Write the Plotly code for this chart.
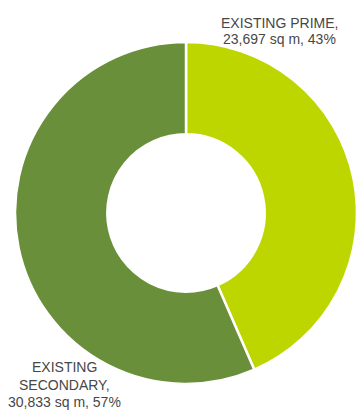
import plotly.graph_objects as go

# Stock of existing space by grade
categories = ["EXISTING PRIME", "EXISTING SECONDARY"]
areas_sqm = [23697, 30833]
colors = ["#BED600", "#6A8F3B"]

W, H = 363, 416

total = sum(areas_sqm)
shares = [round(100 * a / total) for a in areas_sqm]

# ring centred at (186, 213) px, outer radius 171 px
cx, cy, r = 186, 213, 171

fig = go.Figure(
    go.Pie(
        labels=categories,
        values=areas_sqm,
        hole=0.46,
        sort=False,
        direction="clockwise",
        rotation=0,
        textinfo="none",
        hoverinfo="label+value+percent",
        marker=dict(colors=colors, line=dict(color="white", width=2.5)),
        domain=dict(x=[(cx - r) / W, (cx + r) / W],
                    y=[1 - (cy + r) / H, 1 - (cy - r) / H]),
        showlegend=False,
    )
)

font = dict(family="Liberation Sans, Arial, sans-serif", size=14, color="#474747")


def label(lines, x_px, y_px, step=17):
    # one annotation per line keeps the tight line spacing of the callouts
    for i, line in enumerate(lines):
        fig.add_annotation(
            x=x_px / W, y=1 - (y_px + i * step) / H, xref="paper", yref="paper",
            text=line, showarrow=False, xanchor="center", yanchor="middle", font=font,
        )


label([f"{categories[0]},", f"{areas_sqm[0]:,} sq m, {shares[0]}%"], 279, 23, step=16)
label(["EXISTING", "SECONDARY,", f"{areas_sqm[1]:,} sq m, {shares[1]}%"], 64, 367, step=17.5)

fig.update_layout(
    width=W, height=H,
    margin=dict(l=0, r=0, t=0, b=0),
    paper_bgcolor="white", plot_bgcolor="white",
)

fig.write_html("out.html")
